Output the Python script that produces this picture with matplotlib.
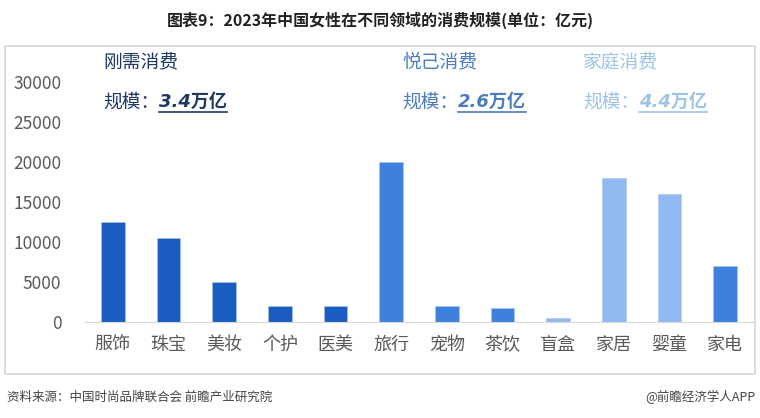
import matplotlib
matplotlib.use("Agg")
import matplotlib.pyplot as plt
from matplotlib.lines import Line2D
from matplotlib.patches import Rectangle
import numpy as np

plt.rcParams["font.family"] = ["Noto Sans CJK SC", "DejaVu Sans"]

categories = ["服饰", "珠宝", "美妆", "个护", "医美", "旅行", "宠物", "茶饮", "盲盒", "家居", "婴童", "家电"]
values = [12500, 10500, 5000, 2000, 2000, 20000, 2000, 1750, 500, 18000, 16000, 7000]
yticks = [0, 5000, 10000, 15000, 20000, 25000, 30000]

groups = ["刚需消费", "悦己消费", "家庭消费"]
group_sizes = ["3.4万亿", "2.6万亿", "4.4万亿"]

title = "图表9：2023年中国女性在不同领域的消费规模(单位：亿元)"
source = "资料来源：中国时尚品牌联合会 前瞻产业研究院"
credit = "@前瞻经济学人APP"

# colours per bar
DARK = "#1b5cc0"
MID = "#3d80de"
LIGHT = "#8fb9f0"
bar_colors = [DARK] * 5 + [MID, MID, MID, LIGHT, LIGHT, LIGHT, MID]
group_colors = ["#1f3864", "#4a7cc2", "#9dc3e6"]
group_x = [103, 402, 583]

fig = plt.figure(figsize=(7.6, 4.18), dpi=100)
W, H = 760, 418

# outer frame
fig.patches.append(Rectangle((5 / W, 1 - 374 / H), 750 / W, 328 / H,
                             transform=fig.transFigure, fill=False,
                             edgecolor="#d6d6d6", linewidth=1.2))

ax = fig.add_axes([85 / W, 1 - 322 / H, 668 / W, 240 / H])
x = np.arange(len(categories))
ax.bar(x, values, width=0.42, color=bar_colors, edgecolor="#a9c8f0", linewidth=0.4)
ax.set_xlim(-0.5, len(categories) - 0.5)
ax.set_ylim(0, 30000)
ax.set_yticks(yticks)
ax.set_yticklabels([str(v) for v in yticks], fontsize=12.5, color="#595959")
ax.set_xticks(x)
ax.set_xticklabels(categories, fontsize=13, color="#595959")
ax.tick_params(axis="y", length=0, pad=17)
ax.tick_params(axis="x", length=0, pad=10)
for side in ["top", "right", "left"]:
    ax.spines[side].set_visible(False)
ax.spines["bottom"].set_color("#d9d9d9")
ax.patch.set_alpha(0)

fig.text(380 / W, 1 - 20 / H, title, ha="center", va="center",
         fontsize=11.5, fontweight="bold", color="#222222")
fig.text(7 / W, 1 - 397 / H, source, ha="left", va="center",
         fontsize=9, color="#444444")
fig.text(755 / W, 1 - 397 / H, credit, ha="right", va="center",
         fontsize=9, color="#444444")

size_texts = []
for gx, name, size, col in zip(group_x, groups, group_sizes, group_colors):
    fig.text(gx / W, 1 - 62 / H, name, ha="left", va="center",
             fontsize=13.5, color=col)
    lab = fig.text(gx / W, 1 - 102 / H, "规模：", ha="left", va="center",
                   fontsize=13.5, color=col)
    size_texts.append((lab, size, col))

fig.canvas.draw()
renderer = fig.canvas.get_renderer()
for lab, size, col in size_texts:
    bb = lab.get_window_extent(renderer)
    t = fig.text(bb.x1 / W, 1 - 102 / H, size, ha="left", va="center",
                 fontsize=13, color=col, fontweight="bold", style="italic",
                 family=["DejaVu Sans", "Noto Sans CJK SC"])
    fig.canvas.draw()
    tb = t.get_window_extent(renderer)
    y_line = (tb.y0 - 1) / H
    fig.lines.append(Line2D([tb.x0 / W, tb.x1 / W], [y_line, y_line],
                            transform=fig.transFigure, color=col, linewidth=1.2))

fig.savefig("out.png", dpi=100)
